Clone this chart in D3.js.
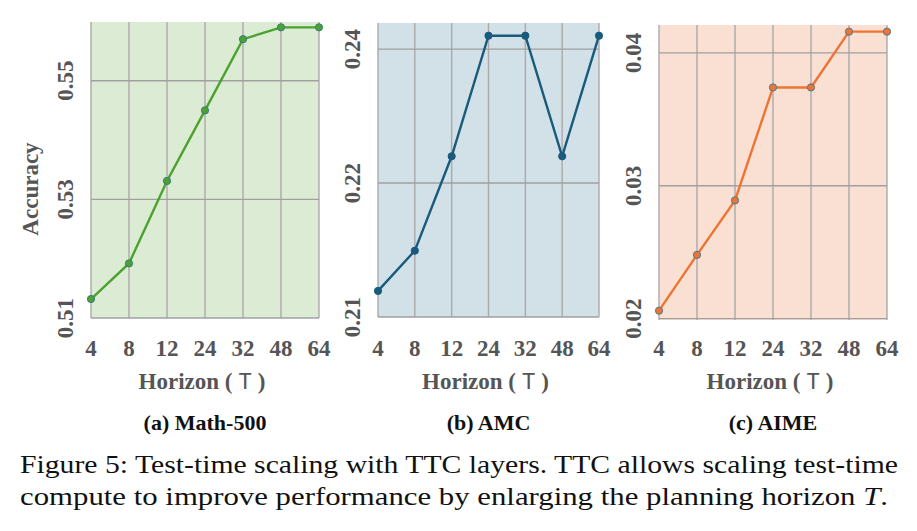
<!DOCTYPE html>
<html>
<head>
<meta charset="utf-8">
<script src="https://d3js.org/d3.v7.min.js"></script>
<style>
  body { margin: 0; background: #fff; }
  text { font-family: "Liberation Serif", "Times New Roman", serif; }
</style>
</head>
<body>
<div id="chart"></div>
<script>
// horizons on the x axis (shared)
var horizons = ["4", "8", "12", "24", "32", "48", "64"];

// accuracy per horizon
var math500 = [0.5132, 0.5192, 0.5331, 0.5450, 0.5570, 0.5590, 0.5590];
var amc = [0.2039, 0.2099, 0.2240, 0.2420, 0.2420, 0.2240, 0.2420];
var aime = [0.0206, 0.0248, 0.0289, 0.0374, 0.0374, 0.0416, 0.0416];

// tick positions and their printed labels
var mathTicks = [0.51, 0.53, 0.55];
var mathTickLabels = ["0.51", "0.53", "0.55"];
var amcTicks = [0.20, 0.22, 0.24];
var amcTickLabels = ["0.21", "0.22", "0.24"];
var aimeTicks = [0.02, 0.03, 0.04];
var aimeTickLabels = ["0.02", "0.03", "0.04"];

var titles = ["(a) Math-500", "(b) AMC", "(c) AIME"];

var W = 917, H = 531;
var svg = d3.select("#chart").append("svg")
    .attr("width", W).attr("height", H);

var panels = [
  {vals: math500, ticks: mathTicks, labels: mathTickLabels, title: titles[0],
   x0: 91, x1: 319, top: 22, bottom: 318, domain: [0.51, 0.5599],
   bg: "#dcebd4", line: "#4ca22f", dot: "#4ca22f", edge: "#3a7a86", ylab: true},
  {vals: amc, ticks: amcTicks, labels: amcTickLabels, title: titles[1],
   x0: 378, x1: 599, top: 23, bottom: 317, domain: [0.20, 0.2439],
   bg: "#d2e0e7", line: "#195b7d", dot: "#195b7d", edge: "#195b7d", ylab: false},
  {vals: aime, ticks: aimeTicks, labels: aimeTickLabels, title: titles[2],
   x0: 659, x1: 887, top: 25, bottom: 320, domain: [0.0199, 0.0421],
   bg: "#f9e0d2", line: "#ee7433", dot: "#ee7433", edge: "#4e7a8e", ylab: false}
];

var grey = "#555";

panels.forEach(function(p) {
  var x = d3.scalePoint().domain(horizons).range([p.x0, p.x1]);
  var y = d3.scaleLinear().domain(p.domain).range([p.bottom, p.top]);
  var g = svg.append("g");

  g.append("rect")
    .attr("x", p.x0).attr("y", p.top)
    .attr("width", p.x1 - p.x0).attr("height", p.bottom - p.top)
    .attr("fill", p.bg);

  // vertical grid
  g.selectAll(".vg").data(horizons).enter().append("line")
    .attr("x1", function(d) { return x(d); }).attr("x2", function(d) { return x(d); })
    .attr("y1", p.top).attr("y2", p.bottom)
    .attr("stroke", "#aaa").attr("stroke-width", 1.4);

  // horizontal grid
  g.selectAll(".hg").data(p.ticks).enter().append("line")
    .attr("x1", p.x0).attr("x2", p.x1)
    .attr("y1", function(d) { return y(d); }).attr("y2", function(d) { return y(d); })
    .attr("stroke", "#a0a0a0").attr("stroke-width", 1.4);

  // y tick labels, rotated
  g.selectAll(".yt").data(p.ticks).enter().append("text")
    .attr("transform", function(d) { return "translate(" + (p.x0 - 26) + "," + y(d) + ")rotate(-90)"; })
    .attr("text-anchor", "middle")
    .attr("dy", "0.35em")
    .attr("font-weight", "bold").attr("font-size", 23).attr("fill", grey)
    .text(function(d, i) { return p.labels[i]; });

  // x tick labels
  g.selectAll(".xt").data(horizons).enter().append("text")
    .attr("x", function(d) { return x(d); }).attr("y", 356)
    .attr("text-anchor", "middle")
    .attr("font-weight", "bold").attr("font-size", 23).attr("fill", grey)
    .text(function(d) { return d; });

  // x axis title
  var xt = g.append("text")
    .attr("x", (p.x0 + p.x1) / 2 - 3).attr("y", 389)
    .attr("text-anchor", "middle")
    .attr("font-weight", "bold").attr("font-size", 23).attr("fill", grey);
  xt.append("tspan").text("Horizon ( ");
  xt.append("tspan").attr("font-family", "'Liberation Mono', monospace").attr("font-weight", "normal").text("T");
  xt.append("tspan").text(" )");

  if (p.ylab) {
    g.append("text")
      .attr("transform", "translate(" + 38 + "," + 189 + ")rotate(-90)")
      .attr("text-anchor", "middle")
      .attr("font-weight", "bold").attr("font-size", 23).attr("fill", grey)
      .text("Accuracy");
  }

  var line = d3.line()
    .x(function(d, i) { return x(horizons[i]); })
    .y(function(d) { return y(d); });

  g.append("path").datum(p.vals)
    .attr("d", line)
    .attr("fill", "none").attr("stroke", p.line).attr("stroke-width", 2.4);

  g.selectAll(".pt").data(p.vals).enter().append("circle")
    .attr("cx", function(d, i) { return x(horizons[i]); })
    .attr("cy", function(d) { return y(d); })
    .attr("r", 3.6)
    .attr("fill", p.dot).attr("stroke", p.edge).attr("stroke-width", 1);

  // sub caption
  svg.append("text")
    .attr("x", (p.x0 + p.x1) / 2).attr("y", 430)
    .attr("text-anchor", "middle")
    .attr("font-weight", "bold").attr("font-size", 22).attr("fill", "#111")
    .text(p.title);
});

svg.append("text")
  .attr("x", 20).attr("y", 473)
  .attr("font-size", 26).attr("fill", "#111")
  .attr("textLength", 878).attr("lengthAdjust", "spacingAndGlyphs")
  .text("Figure 5: Test-time scaling with TTC layers. TTC allows scaling test-time");

var cap2 = svg.append("text")
  .attr("x", 20).attr("y", 505)
  .attr("font-size", 26).attr("fill", "#111")
  .attr("textLength", 868).attr("lengthAdjust", "spacingAndGlyphs");
cap2.append("tspan").text("compute to improve performance by enlarging the planning horizon ");
cap2.append("tspan").attr("font-style", "italic").text("T");
cap2.append("tspan").text(".");
</script>
</body>
</html>
